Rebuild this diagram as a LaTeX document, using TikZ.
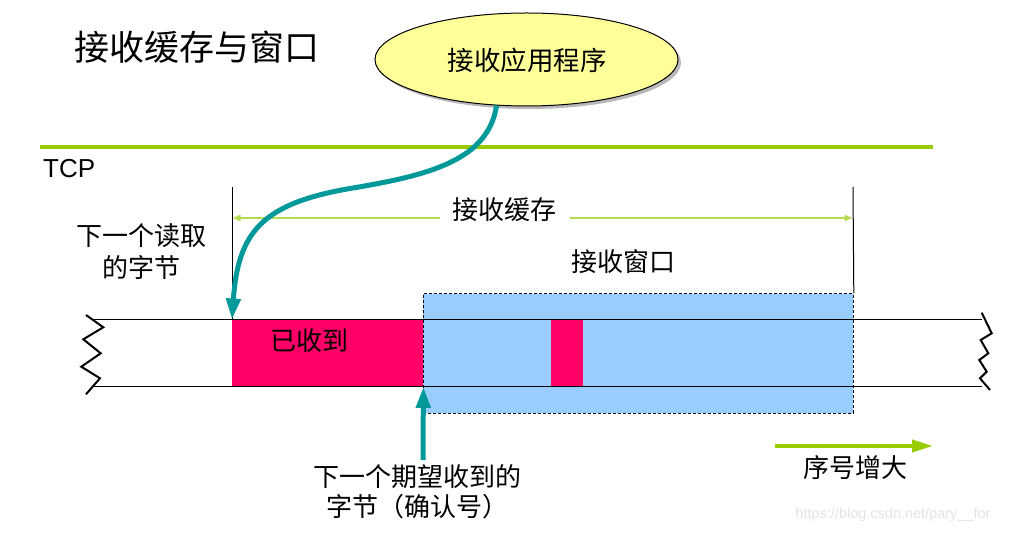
\documentclass[tikz,border=0pt]{standalone}
\usepackage{fontspec}
\setmainfont{Liberation Sans}
\newfontfamily\cjk{Noto Sans CJK SC}
\usetikzlibrary{arrows.meta,shapes.geometric,shadows}
\definecolor{pinkc}{HTML}{FF0066}
\definecolor{bluec}{HTML}{99CCFF}
\definecolor{tealc}{HTML}{009999}
\definecolor{greenc}{HTML}{99CC00}
\definecolor{lgreenc}{HTML}{B5DC50}
\definecolor{yellowc}{HTML}{FFFF99}
\begin{document}
\begin{tikzpicture}[x=1pt,y=-1pt,
  txt/.style={font=\cjk\fontsize{26}{32}\selectfont, inner sep=0pt, align=center},
  tealarrow/.style={draw=tealc, line width=5pt, -{Triangle[length=21pt,width=14pt]}},
  bufarrow/.style={draw=lgreenc, line width=2pt, -{Triangle[length=8pt,width=6pt]}},
  thinline/.style={draw=black, line width=1pt},
  zig/.style={draw=black, line width=2pt, line join=miter},
  pinkblock/.style={fill=pinkc, inner sep=0pt, anchor=north west}
]
\useasboundingbox (0,0) rectangle (1009,534);

% title
\node[font=\cjk\fontsize{35}{40}\selectfont, inner sep=0pt] (title) at (197,47) {接收缓存与窗口};

% application ellipse
\node[ellipse, draw=black, line width=1pt, fill=yellowc, minimum width=303pt, minimum height=93pt, inner sep=0pt,
      drop shadow={shadow xshift=3pt, shadow yshift=-3pt, fill=gray!70, opacity=0.8}] (app) at (526.5,59.5) {};
\node[txt, font=\cjk\fontsize{26.5}{30}\selectfont] (applabel) at (527,60) {接收应用程序};

% TCP separator
\coordinate (sepL) at (40,147);
\coordinate (sepR) at (933,147);
\draw[greenc, line width=4pt] (sepL) -- (sepR);
\node[font=\fontsize{26}{30}\selectfont, inner sep=0pt, anchor=base west] (tcp) at (43,177.5) {TCP};

% receive window (blue dashed rectangle)
\node[fill=bluec, draw=black, line width=0.8pt, dash pattern=on 3pt off 2pt, inner sep=0pt,
      minimum width=430pt, minimum height=119pt, anchor=north west] (win) at (423,293.5) {};

% received data blocks
\node[pinkblock, minimum width=191pt, minimum height=67pt] (rec) at (232,319.5) {};
\node[pinkblock, minimum width=32pt, minimum height=67pt] (rec2) at (551,319.5) {};

% stream lines
\coordinate (topL) at (92.5,319.5);
\coordinate (topR) at (982,319.5);
\coordinate (botL) at (93.5,386.5);
\coordinate (botR) at (982,386.5);
\draw[black, line width=1.3pt] (topL) -- (topR);
\draw[black, line width=1.3pt] (botL) -- (botR);

% zigzags
\draw[zig] (86,315) -- (103.3,327.3) -- (83.3,339.3) -- (100.7,353.3) -- (81.3,366.7) -- (100,378.3) -- (86,394.3);
\draw[zig] (981.7,312.7) -- (991.7,333.3) -- (980.7,340) -- (988.3,353.3) -- (979.3,360) -- (986.7,371.7) -- (980,378.3) -- (990,390);

% buffer bounds
\coordinate (bL1) at (232,187);
\coordinate (bR1) at (853,187);
\draw[thinline] (bL1) -- (rec.north west);
\draw[thinline] (bR1) -- (win.north east);

% buffer arrow
\node[txt] (buf) at (504.5,210) {接收缓存};
\coordinate (gapL) at (440,218);
\coordinate (gapR) at (570,218);
\coordinate (bufL) at (232.5,218);
\coordinate (bufR) at (852.5,218);
\draw[bufarrow] (gapL) -- (bufL);
\draw[bufarrow] (gapR) -- (bufR);

% labels
\node[txt] (nextread) at (141,252) {下一个读取\\的字节};
\node[txt] (winlabel) at (623.5,262) {接收窗口};
\node[txt] (reclabel) at (309,341) {已收到};

% application -> next byte to read
\draw[tealarrow] (app.-123) .. controls (488,160) and (430,175) .. (353,188)
                  .. controls (262,203) and (238,232) .. (rec.north west);

% expected next byte arrow
\coordinate (ackbot) at (423,460);
\draw[tealarrow] (ackbot) -- (rec.south east);
\node[txt, font=\cjk\fontsize{26}{30}\selectfont] (acklabel) at (417,492) {下一个期望收到的\\字节（确认号）};

% sequence direction
\coordinate (seqL) at (775,446);
\coordinate (seqR) at (933,446);
\draw[greenc, line width=4pt, -{Triangle[length=21pt,width=12pt]}] (seqL) -- (seqR);
\node[txt] (seqlabel) at (855,468) {序号增大};

% watermark
\node[font=\fontsize{14.5}{16}\selectfont, text=gray!22, inner sep=0pt] (wm) at (893,515) {https://blog.csdn.net/pary\_\_for};
\end{tikzpicture}
\end{document}
